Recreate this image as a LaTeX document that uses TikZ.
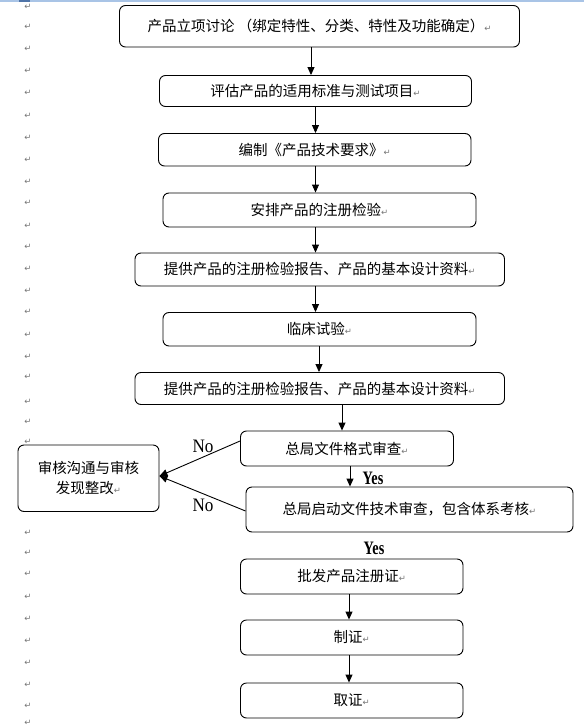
\documentclass[tikz,border=0pt]{standalone}
\usepackage{fontspec}
\usepackage{graphicx}
\newfontfamily\cjk{Noto Sans CJK SC}
\newfontfamily\djv{DejaVu Sans}
\newfontfamily\lserif{Liberation Serif}
\usetikzlibrary{arrows.meta}
\definecolor{markgray}{HTML}{767676}
\definecolor{toplight}{HTML}{A9C4E6}
\definecolor{topdark}{HTML}{4F74A8}
\newcommand{\pmark}{{\djv\fontsize{8.5}{8}\selectfont\color{markgray}↵}}
\tikzset{
  box/.style={draw=black, line width=0.9pt, rounded corners=6pt, fill=white,
    inner sep=0pt, align=center, font=\cjk\fontsize{14.5}{20}\selectfont},
  arr/.style={line width=0.9pt, -{Triangle[width=7pt,length=8pt]}},
  lbl/.style={font=\lserif\fontsize{19}{19}\selectfont, inner sep=0pt},
  pm/.style={font=\djv\fontsize{8.5}{8}\selectfont, text=markgray, inner sep=0pt}
}
\begin{document}
\begin{tikzpicture}[x=1pt,y=-1pt]
\useasboundingbox (0,0) rectangle (584,728);
\fill[toplight] (0,0) rectangle (584,1.5);
\fill[topdark] (19,0) rectangle (30,1.8);
\foreach \yy [count=\i] in {7,27,49,71,93,116,138,160,182,203,226,247,269,291,312,335,357,377,402,422,442,533,553,574,597,619,641,663,685,706,723}
  \node[pm] (m\i) at (28,\yy) {↵};

\node[box, minimum width=400pt, minimum height=41.5pt] (b1) at (319.5,26.25) {产品立项讨论 （绑定特性、分类、特性及功能确定）\pmark};
\node[box, minimum width=312pt, minimum height=31pt] (b2) at (315.5,91) {评估产品的适用标准与测试项目\pmark};
\node[box, minimum width=312.5pt, minimum height=32.5pt] (b3) at (314.75,149.75) {编制《产品技术要求》\pmark};
\node[box, minimum width=313pt, minimum height=34pt] (b4) at (319.5,210) {安排产品的注册检验\pmark};
\node[box, minimum width=369.5pt, minimum height=33pt] (b5) at (319.75,269.5) {提供产品的注册检验报告、产品的基本设计资料\pmark};
\node[box, minimum width=313pt, minimum height=33.5pt] (b6) at (319.5,329.25) {临床试验\pmark};
\node[box, minimum width=369.5pt, minimum height=32pt] (b7) at (319.75,388.5) {提供产品的注册检验报告、产品的基本设计资料\pmark};
\node[box, minimum width=213pt, minimum height=35pt] (b8) at (347,448.5) {总局文件格式审查\pmark};
\node[box, minimum width=327pt, minimum height=45pt] (b9) at (409.5,509.5) {总局启动文件技术审查，包含体系考核\pmark};
\node[box, minimum width=141pt, minimum height=66.5pt] (lb) at (88.5,478.25) {审核沟通与审核\\发现整改\pmark};
\node[box, minimum width=222.5pt, minimum height=35pt] (b10) at (351.75,576.5) {批发产品注册证\pmark};
\node[box, minimum width=222.5pt, minimum height=35pt] (b11) at (351.75,637.5) {制证\pmark};
\node[box, minimum width=222.5pt, minimum height=35pt] (b12) at (351.75,700.5) {取证\pmark};

\draw[arr] ([xshift=-8.5pt]b1.south) -- ([xshift=-4.5pt]b2.north);
\draw[arr] (b2.south) -- ([xshift=0.75pt]b3.north);
\draw[arr] ([xshift=0.75pt]b3.south) -- ([xshift=-4pt]b4.north);
\draw[arr] ([xshift=-4pt]b4.south) -- ([xshift=-4.25pt]b5.north);
\draw[arr] ([xshift=-4.25pt]b5.south) -- ([xshift=-4pt]b6.north);
\draw[arr] ([xshift=-0.5pt]b6.south) -- ([xshift=-0.75pt]b7.north);
\draw[arr] ([xshift=22.25pt]b7.south) -- ([xshift=-5pt]b8.north);
\draw[arr] ([xshift=3pt]b8.south) -- ([xshift=-59.5pt]b9.north);
\draw[arr] ([xshift=-2.75pt]b10.south) -- ([xshift=-2.75pt]b11.north);
\draw[arr] ([xshift=-2.75pt]b11.south) -- ([xshift=-2.75pt]b12.north);

\coordinate (tipL) at ([yshift=2.25pt]lb.east);
\draw[arr] ([yshift=7.5pt]b8.west) -- (tipL);
\draw[arr] ([yshift=-1.5pt]b9.west) -- (tipL);

\node[lbl] (no1) at (203,446.5) {\scalebox{0.9}[1]{No}};
\node[lbl] (no2) at (203,505.5) {\scalebox{0.9}[1]{No}};
\node[lbl] (yes1) at (373,478) {\scalebox{0.75}[1]{\bfseries Yes}};
\node[lbl] (yes2) at (374,548) {\scalebox{0.75}[1]{\bfseries Yes}};
\end{tikzpicture}
\end{document}
